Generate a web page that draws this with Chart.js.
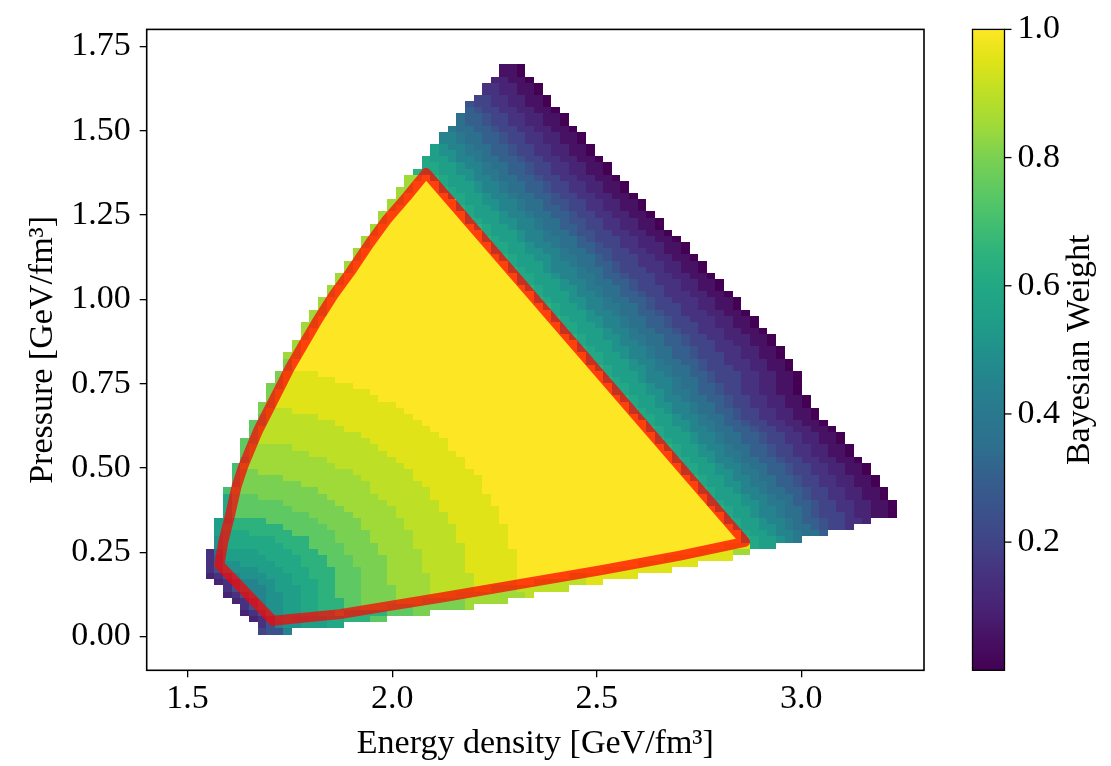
<!DOCTYPE html>
<html lang="en">
<head>
<meta charset="utf-8">
<title>Bayesian Weight</title>
<script src="https://cdn.jsdelivr.net/npm/chart.js"></script>
<style>
  html, body { margin: 0; padding: 0; background: #fff; }
  canvas { display: block; }
</style>
</head>
<body>
<canvas id="pesoBayes" width="1111" height="766"></canvas>
<script>
// Bayesian weight in the energy density / pressure plane, accepted region outlined in red
const energyTicks = [1.5, 2.0, 2.5, 3.0];
const pressureTicks = [0, 0.25, 0.5, 0.75, 1.0, 1.25, 1.5, 1.75];
const weightTicks = [0.2, 0.4, 0.6, 0.8, 1.0];

// bins: columns in energy density, rows in pressure (row 0 is the top one)
const eStart = 1.5442, eStep = 0.02112;
const pTop = 1.6965, pStep = 0.018177;

// first column of each row
const rowFirstCol = [
  34, 34, 33, 32, 32, 31, 30, 30, 29, 29,
  28, 27, 27, 26, 26, 25, 25, 24, 23, 23,
  22, 22, 21, 21, 20, 20, 19, 19, 18, 18,
  17, 17, 16, 16, 15, 15, 14, 14, 13, 13,
  12, 12, 11, 11, 11, 10, 10, 9, 9, 9,
  8, 8, 7, 7, 7, 6, 6, 6, 5, 5,
  5, 4, 4, 4, 4, 3, 3, 3, 3, 2,
  2, 2, 2, 2, 1, 1, 1, 1, 1, 0,
  0, 0, 0, 0, 1, 2, 2, 3, 4, 4,
  5, 6, 6];

// weight of each cell, a = 0.00 ... u = 1.00 in steps of 0.05; a number repeats the letter before it
const rowWeights = [
  'bba',
  'bba',
  'ccbba',
  'ddccbba',
  'ddccbba',
  'eeddccbba',
  'feeddccbba',
  'gfeeddccbba',
  'hggfeeddccbba',
  'hggfeeddccbba',
  'ihhggfeeddccbba',
  'jjihhggfeeddccbba',
  'jjihhggfeeddccbba',
  'lkjjihhggfeeddccbba',
  'lkkjiihggfeeddccbba',
  'mllkjjihhggfeeddccbba',
  'mmllkjjihhggfeeddccbba',
  'nnmllkkjiihggfeeddccbba',
  'r2unmllkjjihhggfeeddccbba',
  'ru3mlllkjjihhggfeeddccbba',
  'r2u3nmllkjjihhggfeeddccbba',
  'ru5mmllkjjihhggfeeddccbba',
  'r2u6mllkkjjihhgffeeddccbba',
  'ru7nmllkjjihhggfeeddccbba',
  'ru9mlllkjjihhggfeeddccbba',
  'ru9nmllkkjjihhgffeeddccbba',
  'ru11nmllkjjihhggfeeddccbba',
  'ru12mlllkjjihhgffeeddccbba',
  'ru13nmllkjjiihhgfeeeddccbba',
  'ru14mmllkjjihhggfeeddcccbba',
  'ru15nmllkkjjihhgffeeddccbba',
  'ru16nmllkkjiihhgfeeeddccbba',
  'ru18mlllkjjihhggfeedddccbba',
  'ru18nmllkjjjihhgfeeeddccbba',
  'ru20mmllkjjiihggfeeeddccbba',
  'ru20nmlllkjjihhggfeedddccbba',
  'ru22nmllkkjiihhgfeeeddccbba',
  'ru23mlllkjjihhggfeedddccbba',
  'ru24nmllkkjjihhggfeedddccbba',
  'ru25nmllkjjiihhgfeeeddccbba',
  'r2u26mlllkjjihhggfeedddccbba',
  'ru27nmllkkjjihhggfeedddccbba',
  'r2u28mmllkjjihhggfeeeddccbba',
  'ru29nmlllkjjihhggfeedddccbba',
  'ru30nmllkkjiihhggfeeddcccbba',
  'ru32mlllkjjihhggfeeeddccbba',
  'ru32nmllkkjjihhggfeedddccbba',
  'r2u33mmllkjjihhggfeeeddccbba',
  'qu34nmlllkjjihhggfeedddccbba',
  'qu35nmllkkjiihhgfeeeddccbba',
  'qt4u33mlllkjjihhggfeeeddccbba',
  'qt6u31nmllkjjjihhgfeeeddccbba',
  'q2t8u30mmllkjjihhggfeeddccbba',
  'qt11u28nmllkkjiihggfeeddccbba',
  'qt12u28nmllkjjihhggfeeddccbba',
  'q2t14u27mllkkjjihhgfeeddccbba',
  'qs3t13u26nmllkjjihhggfeeddccbba',
  'ps6t11u26mmllkjjihhgfeeddccbba',
  'p2s8t10u26mllkkjiihggfeeddccbba',
  'ps10t10u25nmllkjjihhggfeeddccbba',
  'ps12t9u25mlllkjjihhggfeeddccbba',
  'p2s13t9u24nmllkjjihhggfeeddccbba',
  'pr5s10t8u25nmllkjjihhggfeeddccbba',
  'pr7s9t8u25mllkkjiihggfeeddccbba',
  'or9s8t8u24nmllkjjihhggfeeddccbba',
  'or11s8t7u25mmllkjjihhggfeeddccbba',
  'oq2r11s7t7u24nmllkkjiihggfeeddccbba',
  'oq5r9s6t8u24nmllkjjihhggfeeddccbba',
  'oq7r8s6t7u25mllkkjiihggfeeddccbba',
  'oq10r6s7t6u25nmllkjjihhggfeeddccbba',
  'mp3q8r6s6t7u25mlllkjjihhgfeeddccbba',
  'mp6q6r6s6t6u25nmllkkjiihggfeeddccbba',
  'mp7q6r6s5t7u25nmllkjjihhgfeeddccbba',
  'mp9q5r5s6t6u26mllkjjihhgfeeedccbba',
  'l2n4p6q5r5s5t6u26nmllkjjihggfeeddc',
  'ln7p5q4r5s6t6u26mllkkjihhgfeed',
  'lm3n5p5q4r5s5t6u27mllkjjihhg',
  'km6n4p3q4r5s5t6u27nmllkji',
  'km7n3p4q4r4s6t5u25t3mll',
  'dhl4m4n3p3q4r5s5t6u21t4r2',
  'dgl5m4n3p3q4r4s5t6u17t8',
  'dgk2l4m3n3p3q4r4s5t6u14t7',
  'dfk4l3m3n3p3q3r4s5t6u10t8',
  'cdfjk3l3m2n3p3q3r5s5t5u6s2t6',
  'cdfj2k2l2m3n2p3q3r5s5t5u2s6t2',
  'dfj3kl3m2n2p3q4r4s5t2r3s6',
  'cdfj2k2l2m2n2p3q4r4s3r8s',
  'cdfjk2l2m2n3p2q4r3q5r5',
  'dfjk2l2m2n3p2q3p3q6r',
  'cdfk2l2m2n2pn5p3q2',
  'cdfklk2l2m2n3p2',
  'dfjk2l3m2',
  'effj'];

// outline of the accepted region (energy density, pressure)
const regionE = [2.0828, 2.8625, 2.7036, 2.5081, 2.1169, 1.9947, 1.8725, 1.7087, 1.5775, 1.5873,
  1.6036, 1.6200, 1.6361, 1.6525, 1.6728, 1.6933, 1.7217, 1.7503, 1.7828, 1.8155,
  1.8561, 1.8971, 1.9458, 1.9867, 2.0355, 2.0828];
const regionP = [1.3741, 0.2809, 0.2399, 0.1961, 0.1151, 0.0909, 0.0665, 0.0470, 0.2128, 0.2809,
  0.3589, 0.4466, 0.5051, 0.5536, 0.6120, 0.6609, 0.7290, 0.7974, 0.8655, 0.9336,
  1.0116, 1.0797, 1.1674, 1.2358, 1.3040, 1.3741];

const fuente = 'Liberation Serif';
const cbMin = 0, cbMax = 1;

const viridis = ['#440154', '#471164', '#482475', '#46327e', '#414487', '#3b528b', '#355f8d',
  '#2d708e', '#2a788e', '#25838e', '#21918c', '#1f9f88', '#22a884', '#2db27d', '#44bf70',
  '#5ec962', '#7ad151', '#a0da39', '#bddf26', '#dfe318', '#fde725'];
const viridisRgb = viridis.map(h => [1, 3, 5].map(i => parseInt(h.slice(i, i + 2), 16)));

const colorPeso = (w) => {
  const t = Math.min(1, Math.max(0, (w - cbMin) / (cbMax - cbMin))) * (viridisRgb.length - 1);
  const i = Math.min(Math.floor(t), viridisRgb.length - 2);
  const f = t - i;
  const c = viridisRgb[i].map((v, n) => Math.round(v + (viridisRgb[i + 1][n] - v) * f));
  return `rgb(${c[0]},${c[1]},${c[2]})`;
};

const leerFila = (s) => {
  const out = [];
  s.replace(/([a-u])(\d*)/g, (m, letra, n) => {
    const w = (letra.charCodeAt(0) - 97) / 20;
    for (let i = 0; i < (n ? Number(n) : 1); i++) out.push(w);
    return m;
  });
  return out;
};

const celdas = {
  id: 'celdas',
  beforeDatasetsDraw(chart) {
    const {ctx, chartArea: a, scales: {x, y}} = chart;
    ctx.save();
    ctx.beginPath();
    ctx.rect(a.left, a.top, a.right - a.left, a.bottom - a.top);
    ctx.clip();
    rowWeights.forEach((fila, k) => {
      const y0 = Math.round(y.getPixelForValue(pTop - k * pStep));
      const y1 = Math.round(y.getPixelForValue(pTop - (k + 1) * pStep));
      leerFila(fila).forEach((w, i) => {
        const col = rowFirstCol[k] + i;
        const x0 = Math.round(x.getPixelForValue(eStart + col * eStep));
        const x1 = Math.round(x.getPixelForValue(eStart + (col + 1) * eStep));
        ctx.fillStyle = colorPeso(w);
        ctx.fillRect(x0, y0, x1 - x0, y1 - y0);
      });
    });
    ctx.restore();
  }
};

// frame around the axes and the colour bar on the right
const marcoYBarra = {
  id: 'marcoYBarra',
  afterDraw(chart) {
    const {ctx, chartArea: a} = chart;
    ctx.save();
    ctx.strokeStyle = '#000';
    ctx.lineWidth = 1.6;
    ctx.strokeRect(a.left, a.top, a.right - a.left, a.bottom - a.top);

    const left = 972.5, right = 1004.5, top = a.top, bottom = a.bottom;
    const grad = ctx.createLinearGradient(0, bottom, 0, top);
    viridis.forEach((c, i) => grad.addColorStop(i / (viridis.length - 1), c));
    ctx.fillStyle = grad;
    ctx.fillRect(left, top, right - left, bottom - top);
    ctx.lineWidth = 1.3;
    ctx.strokeRect(left, top, right - left, bottom - top);

    ctx.fillStyle = '#000';
    ctx.font = `34px "${fuente}"`;
    ctx.textAlign = 'left';
    ctx.textBaseline = 'middle';
    weightTicks.forEach(v => {
      const ty = bottom - (v - cbMin) / (cbMax - cbMin) * (bottom - top);
      ctx.beginPath();
      ctx.moveTo(right, ty);
      ctx.lineTo(right + 7, ty);
      ctx.stroke();
      ctx.fillText(v.toFixed(1), right + 13, ty);
    });

    ctx.translate(1080, (top + bottom) / 2);
    ctx.rotate(-Math.PI / 2);
    ctx.textAlign = 'center';
    ctx.fillText('Bayesian Weight', 0, 0);
    ctx.restore();
  }
};

const ctx = document.getElementById('pesoBayes').getContext('2d');
const myChart = new Chart(ctx, {
  type: 'scatter',
  data: {
    datasets: [{
      label: 'Accepted region',
      data: regionE.map((e, i) => ({x: e, y: regionP[i]})),
      showLine: true,
      borderColor: 'rgba(255, 0, 0, 0.72)',
      borderWidth: 10,
      borderJoinStyle: 'round',
      borderCapStyle: 'round',
      pointRadius: 0,
      pointHoverRadius: 0,
      fill: false,
      tension: 0
    }]
  },
  options: {
    responsive: false,
    animation: false,
    events: [],
    layout: {padding: {top: 20.3, right: 187, bottom: 0, left: 0}},
    plugins: {legend: {display: false}, tooltip: {enabled: false}},
    scales: {
      x: {
        type: 'linear',
        min: 1.4,
        max: 3.3,
        afterBuildTicks: s => { s.ticks = energyTicks.map(v => ({value: v})); },
        afterFit: s => { s.height = 95.7; },
        ticks: {
          font: {family: fuente, size: 34},
          color: '#000',
          padding: 1,
          maxRotation: 0,
          autoSkip: false,
          callback: v => v.toFixed(1)
        },
        grid: {drawOnChartArea: false, drawTicks: true, tickLength: 7, color: '#000', lineWidth: 1.3},
        border: {display: false},
        title: {
          display: true,
          text: 'Energy density [GeV/fm³]',
          font: {family: fuente, size: 34},
          color: '#000',
          padding: {top: 0, bottom: 2}
        }
      },
      y: {
        type: 'linear',
        min: -0.1,
        max: 1.8,
        afterBuildTicks: s => { s.ticks = pressureTicks.map(v => ({value: v})); },
        afterFit: s => { s.width = 146.7; },
        ticks: {
          font: {family: fuente, size: 34},
          color: '#000',
          padding: 9,
          autoSkip: false,
          callback: v => v.toFixed(2)
        },
        grid: {drawOnChartArea: false, drawTicks: true, tickLength: 7, color: '#000', lineWidth: 1.3},
        border: {display: false},
        title: {
          display: true,
          text: 'Pressure [GeV/fm³]',
          font: {family: fuente, size: 34},
          color: '#000',
          padding: {top: 23, bottom: 0}
        }
      }
    }
  },
  plugins: [celdas, marcoYBarra]
});
</script>
</body>
</html>
